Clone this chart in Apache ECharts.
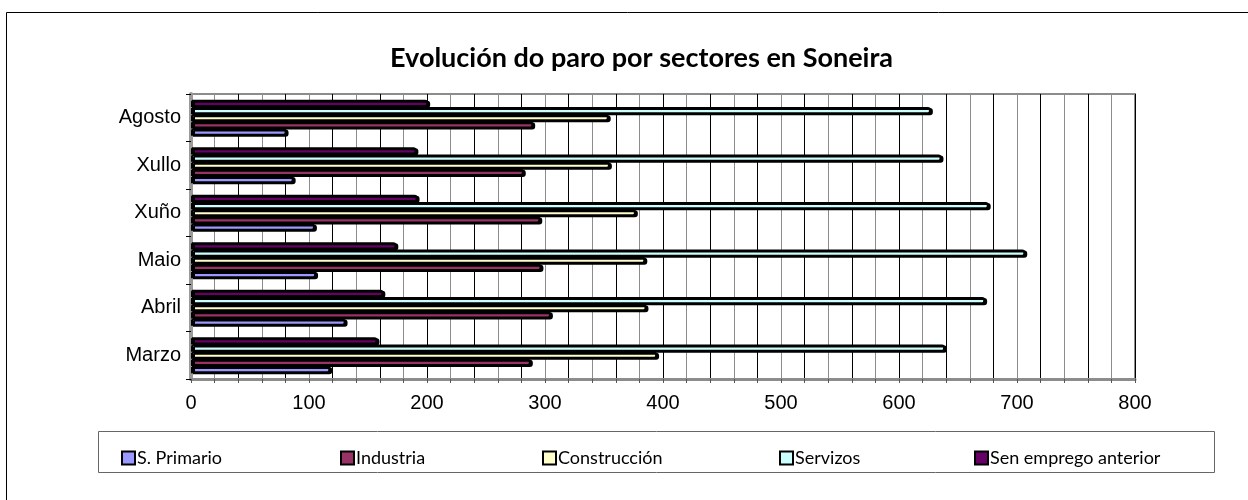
<!DOCTYPE html>
<html>
<head>
<meta charset="utf-8">
<title>Evolución do paro por sectores en Soneira</title>
<script src="https://cdn.jsdelivr.net/npm/echarts/dist/echarts.min.js"></script>
<style>
  html, body { margin: 0; padding: 0; background: #fff; }
  #chart { width: 1248px; height: 500px; }
</style>
</head>
<body>
<div id="chart"></div>
<script>
// meses (de abaixo a arriba)
const categories = ['Marzo', 'Abril', 'Maio', 'Xuño', 'Xullo', 'Agosto']
const seriesNames = ['S. Primario', 'Industria', 'Construcción', 'Servizos', 'Sen emprego anterior']
const primario = [118, 131, 106, 105, 87, 81]
const industria = [288, 305, 297, 296, 282, 290]
const construccion = [395, 386, 385, 377, 355, 354]
const servizos = [639, 673, 707, 676, 636, 627]
const senEmprego = [158, 163, 174, 192, 191, 201]
const xTicks = [0, 100, 200, 300, 400, 500, 600, 700, 800]

const colors = ['#9999ff', '#993366', '#ffffcc', '#ccffff', '#660066']
const values = [primario, industria, construccion, servizos, senEmprego]
const legendLeft = [116, 335, 537, 774, 969]

const chart = echarts.init(document.getElementById('chart'))

// en barras horizontais a primeira serie queda arriba, asi que van ao reves
function getSeries() {
  const series = []
  for (let i = values.length - 1; i >= 0; i--) {
    series.push({
      name: seriesNames[i],
      type: 'bar',
      data: values[i],
      barGap: '0%',
      barCategoryGap: '24%',
      itemStyle: {
        color: colors[i],
        borderColor: '#000',
        borderWidth: 2,
        borderRadius: [0, 2, 2, 0],
        shadowColor: '#000',
        shadowOffsetX: 2,
        shadowOffsetY: 1,
        shadowBlur: 0
      }
    })
  }
  return series
}

function getLegends() {
  return seriesNames.map((name, i) => ({
    data: [name],
    left: legendLeft[i],
    top: 444,
    itemWidth: 13,
    itemHeight: 13,
    icon: 'rect',
    itemStyle: { borderColor: '#000', borderWidth: 2 },
    textStyle: {
      fontFamily: 'Lato',
      fontSize: 18,
      color: '#000',
      padding: [0, 0, 0, -3]
    },
    selectedMode: false
  }))
}

const option = {
  animation: false,
  title: {
    text: 'Evolución do paro por sectores en Soneira',
    left: 385,
    top: 40,
    textStyle: {
      fontFamily: 'Lato',
      fontWeight: 'bold',
      fontSize: 27,
      color: '#000'
    }
  },
  legend: getLegends(),
  // marcos: borde exterior e caixa da lenda
  graphic: [
    {
      type: 'rect',
      shape: { x: 6.5, y: 12.5, width: 1260, height: 520 },
      style: { fill: 'none', stroke: '#000', lineWidth: 1 },
      silent: true
    },
    {
      type: 'rect',
      shape: { x: 98.5, y: 431.5, width: 1116, height: 41 },
      style: { fill: 'none', stroke: '#666', lineWidth: 1 },
      silent: true,
      z: -1
    }
  ],
  grid: {
    left: 191,
    right: 1248 - 1135,
    top: 94,
    bottom: 500 - 379,
    show: true,
    borderColor: '#8c8c8c',
    borderWidth: 2,
    backgroundColor: '#fff'
  },
  xAxis: {
    type: 'value',
    min: 0,
    max: 800,
    interval: 20,
    axisLine: { show: true, lineStyle: { color: '#8c8c8c', width: 3 } },
    axisTick: { show: true, length: 4, lineStyle: { color: '#555' } },
    axisLabel: {
      fontFamily: 'Liberation Sans',
      fontSize: 20,
      color: '#000',
      margin: 14,
      formatter: function(v) {
        return xTicks.indexOf(v) > -1 ? String(v) : ''
      }
    },
    splitLine: {
      show: true,
      lineStyle: { color: ['#000', '#8c8c8c'], width: 1 }
    }
  },
  yAxis: {
    type: 'category',
    data: categories,
    axisLine: { show: true, lineStyle: { color: '#9a9a9a', width: 4 } },
    axisTick: { show: true, length: 5, lineStyle: { color: '#000' } },
    axisLabel: {
      fontFamily: 'Liberation Sans',
      fontSize: 20,
      color: '#000',
      margin: 10
    }
  },
  series: getSeries()
}

chart.setOption(option)
</script>
</body>
</html>
